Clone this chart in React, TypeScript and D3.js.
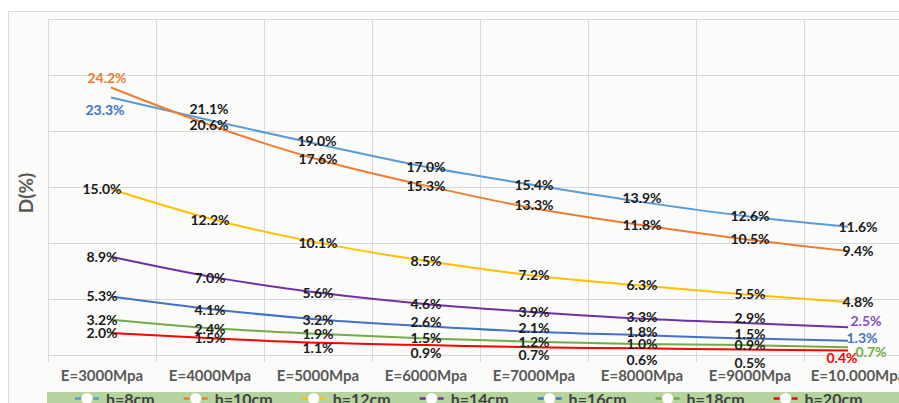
import React, { useMemo } from "react";
import * as d3 from "d3";

// ---- data ----
const categories = ["E=3000Mpa", "E=4000Mpa", "E=5000Mpa", "E=6000Mpa", "E=7000Mpa", "E=8000Mpa", "E=9000Mpa", "E=10.000Mpa"];
const seriesNames = ["h=8cm", "h=10cm", "h=12cm", "h=14cm", "h=16cm", "h=18cm", "h=20cm"];
const h8 = [23.3, 21.1, 19.0, 17.0, 15.4, 13.9, 12.6, 11.6];
const h10 = [24.2, 20.6, 17.6, 15.3, 13.3, 11.8, 10.5, 9.4];
const h12 = [15.0, 12.2, 10.1, 8.5, 7.2, 6.3, 5.5, 4.8];
const h14 = [8.9, 7.0, 5.6, 4.6, 3.9, 3.3, 2.9, 2.5];
const h16 = [5.3, 4.1, 3.2, 2.6, 2.1, 1.8, 1.5, 1.3];
const h18 = [3.2, 2.4, 1.9, 1.5, 1.2, 1.0, 0.9, 0.7];
const h20 = [2.0, 1.5, 1.1, 0.9, 0.7, 0.6, 0.5, 0.4];
const seriesValues = [h8, h10, h12, h14, h16, h18, h20];
const seriesColors = ["#5B9BD5", "#ED7D31", "#FFC000", "#7030A0", "#4472C4", "#70AD47", "#FF0000"];
const labelColors = ["#4472C4", "#ED7D31", "#1a1a1a", "#8a4cc0", "#4472C4", "#70AD47", "#FF0000"];

// label nudges (layout only): key "series-category" -> [dx, dy, colored]
const labelNudge: Record<string, [number, number, boolean]> = {
  "0-0": [3, 12, true],
  "1-0": [5, -10, true],
  "0-1": [-1, -13, false],
  "0-2": [-1, -4, false],
  "1-1": [-1, -2, false],
  "1-2": [0, -2, false],
  "1-4": [0, -3, false],
  "0-5": [0, -3, false],
  "3-5": [0, -2, false],
  "3-6": [0, -5, false],
  "3-7": [8, -6, true],
  "4-3": [0, -4, false],
  "4-4": [0, -4, false],
  "4-5": [0, -3, false],
  "4-6": [0, -4, false],
  "4-7": [4, -3, true],
  "5-7": [13, 5, true],
  "6-2": [0, 5, false],
  "6-3": [0, 8, false],
  "6-4": [0, 8, false],
  "6-5": [0, 12, false],
  "6-6": [0, 13, false],
  "6-7": [-16, 7, true],
};

const W = 899;
const H = 403;
const FONT = "Lato, 'Open Sans', sans-serif";

export default function App() {
  const x = d3.scaleBand<string>().domain(categories).range([48, 48 + 8 * 108]).paddingInner(0).paddingOuter(0);
  const xp = d3.scalePoint<string>().domain(categories).range([111, 848]);
  const y = d3.scaleLinear().domain([0, 30.4]).range([355, 19]);
  const yTicks = d3.range(0, 7).map((i) => (30.4 / 6) * i);

  const line = d3
    .line<number>()
    .x((_, i) => xp(categories[i]) as number)
    .y((v) => y(v))
    .curve(d3.curveMonotoneX);

  const legendLayout = useMemo(() => {
    const canvas = document.createElement("canvas");
    const ctx = canvas.getContext("2d")!;
    ctx.font = `bold 16px ${FONT}`;
    let pos = 106;
    return seriesNames.map((n) => {
      const w = ctx.measureText(n).width;
      const item = { name: n, x: pos };
      pos += w + 60;
      return item;
    });
  }, []);

  return (
    <svg width={W} height={H} style={{ position: "fixed", left: 0, top: 0, background: "#fdfdfc" }} fontFamily={FONT}>
      <rect x={0} y={0} width={W} height={H} fill="#ffffff" />
      <rect x={8.5} y={11.5} width={W} height={H} fill="#fbfbf9" stroke="#d9d9d9" />
      {/* gridlines */}
      {yTicks.map((t, i) => (
        <line key={"h" + i} x1={48} x2={W} y1={Math.round(y(t)) + 0.5} y2={Math.round(y(t)) + 0.5} stroke="#d9d9d9" strokeWidth={1} />
      ))}
      {categories.map((c, i) => (
        <line key={"v" + i} x1={Math.round(x(c) as number) + 0.5} x2={Math.round(x(c) as number) + 0.5} y1={y(30.4)} y2={362} stroke="#d9d9d9" strokeWidth={1} />
      ))}
      {/* y axis title */}
      <text transform="translate(33,193) rotate(-90)" textAnchor="middle" fontSize={19} fontWeight="bold" fill="#595959">
        D(%)
      </text>
      {/* category labels */}
      {categories.map((c) => (
        <text key={c} x={(x(c) as number) + x.bandwidth() / 2} y={381} textAnchor="middle" fontSize={15} fontWeight="bold" fill="#595959">
          {c}
        </text>
      ))}
      {/* lines */}
      {seriesValues.map((vals, si) => (
        <path key={"l" + si} d={line(vals) || ""} fill="none" stroke={seriesColors[si]} strokeWidth={2} />
      ))}
      {/* data labels */}
      {seriesValues.map((vals, si) =>
        vals.map((v, ci) => {
          const nudge = labelNudge[`${si}-${ci}`] || [0, 0, false];
          const cx = (x(categories[ci]) as number) + x.bandwidth() / 2 + nudge[0];
          const cy = y(v) + nudge[1];
          return (
            <text
              key={`t${si}-${ci}`}
              x={cx}
              y={cy}
              dy="0.36em"
              textAnchor="middle"
              fontSize={14}
              fontWeight="bold"
              fill={nudge[2] ? labelColors[si] : "#1a1a1a"}
            >
              {v.toFixed(1) + "%"}
            </text>
          );
        })
      )}
      {/* legend */}
      <rect x={47} y={392} width={W - 47} height={20} fill="#b5d4a0" />
      {legendLayout.map((item, si) => {
        const mx = item.x - 19;
        return (
          <g key={"lg" + si}>
            <line x1={mx - 12} x2={mx + 12} y1={398.5} y2={398.5} stroke={seriesColors[si]} strokeWidth={2.5} strokeDasharray="6 12" />
            <circle cx={mx} cy={398.5} r={5.5} fill="#ffffff" />
            <text x={item.x} y={405} fontSize={16} fontWeight="bold" fill="#404040">
              {item.name}
            </text>
          </g>
        );
      })}
    </svg>
  );
}
